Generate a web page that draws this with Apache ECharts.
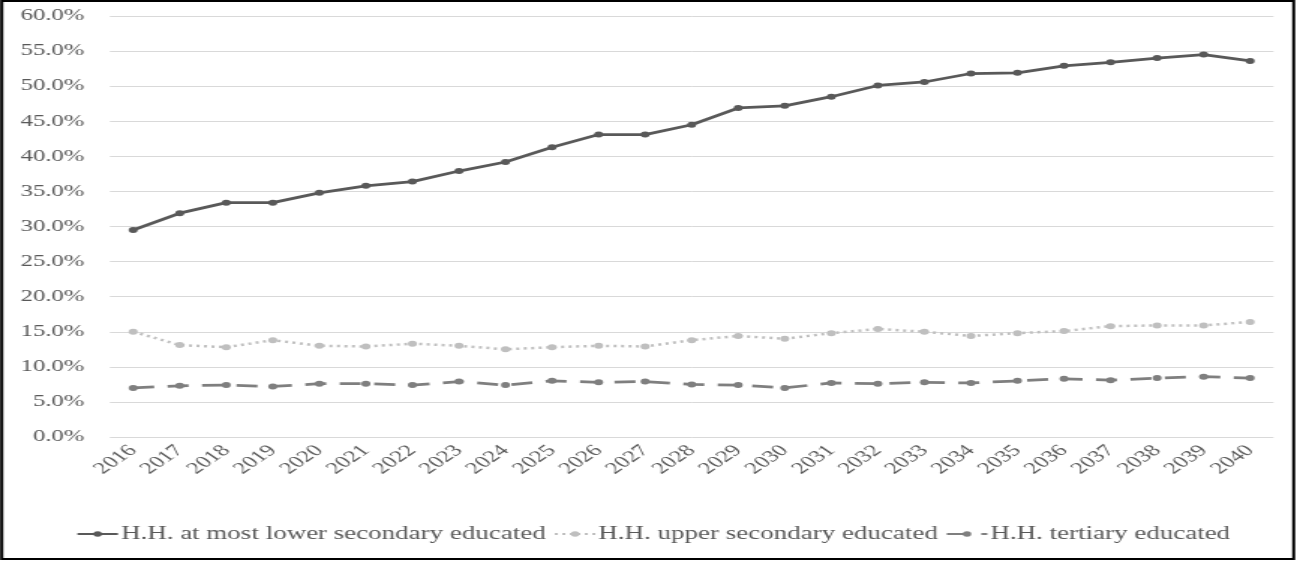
<!DOCTYPE html>
<html>
<head>
<meta charset="utf-8">
<script src="https://cdn.jsdelivr.net/npm/echarts@6/dist/echarts.min.js"></script>
<style>
html,body{margin:0;padding:0;background:#fff;overflow:hidden;}
#wrap{width:1306px;height:562px;overflow:hidden;}
#chart{width:871px;height:562px;transform:scaleX(1.4994);transform-origin:0 0;}
</style>
</head>
<body>
<div id="wrap"><div id="chart"></div></div>
<script>
const years = ['2016','2017','2018','2019','2020','2021','2022','2023','2024','2025','2026','2027','2028','2029','2030','2031','2032','2033','2034','2035','2036','2037','2038','2039','2040'];
const lowerSecondary = [29.5,31.9,33.4,33.4,34.8,35.8,36.4,37.9,39.2,41.3,43.1,43.1,44.5,46.9,47.2,48.5,50.1,50.6,51.8,51.9,52.9,53.4,54.0,54.5,53.6];
const upperSecondary = [15.0,13.1,12.8,13.8,13.0,12.9,13.3,13.0,12.5,12.8,13.0,12.9,13.8,14.4,14.0,14.8,15.4,15.0,14.4,14.8,15.1,15.8,15.9,15.9,16.4];
const tertiary = [7.0,7.3,7.4,7.2,7.6,7.6,7.4,7.9,7.4,8.0,7.8,7.9,7.5,7.4,7.0,7.7,7.6,7.8,7.7,8.0,8.3,8.1,8.4,8.6,8.4];
const seriesNames = ['H.H. at most lower secondary educated','H.H. upper secondary educated','H.H. tertiary educated'];

const font = '"Liberation Serif", "DejaVu Serif", serif';
const chart = echarts.init(document.getElementById('chart'), null, {renderer:'canvas'});
chart.setOption({
  animation:false,
  backgroundColor:'#fff',
  textStyle:{fontFamily:font},
  graphic:[{type:'rect',shape:{x:1.2,y:1,width:861.6,height:558},style:{fill:'none',stroke:'#000',lineWidth:2},silent:true,z:100}],
  grid:{left:73.3,right:21.7,top:16,bottom:125,containLabel:false},
  legend:{
    bottom:14,
    left:'center',
    itemWidth:27,
    itemHeight:7,
    itemGap:5,
    textStyle:{fontFamily:font,fontSize:18,color:'#595959',padding:[0,0,0,-3]},
    data:seriesNames
  },
  xAxis:{
    type:'category',
    data:years,
    boundaryGap:true,
    axisLine:{show:false},
    axisTick:{show:false},
    axisLabel:{rotate:45,fontFamily:font,fontSize:16.5,color:'#595959',margin:11,interval:0}
  },
  yAxis:{
    type:'value',
    min:0,max:60,interval:5,
    axisLine:{show:false},
    axisTick:{show:false},
    splitLine:{lineStyle:{color:'#d9d9d9',width:1}},
    axisLabel:{fontFamily:font,fontSize:16.5,color:'#595959',margin:17,formatter:v=>v.toFixed(1)+'%'}
  },
  series:[
    {name:seriesNames[0],type:'line',data:lowerSecondary,symbol:'circle',symbolSize:6,
     lineStyle:{color:'#595959',width:2.75},itemStyle:{color:'#595959'}},
    {name:seriesNames[1],type:'line',data:upperSecondary,symbol:'circle',symbolSize:6,
     lineStyle:{color:'#bfbfbf',width:2.5,type:[2,3]},itemStyle:{color:'#bfbfbf'}},
    {name:seriesNames[2],type:'line',data:tertiary,symbol:'circle',symbolSize:6,
     lineStyle:{color:'#7f7f7f',width:2.75,type:[14,9]},itemStyle:{color:'#7f7f7f'}}
  ]
});
</script>
</body>
</html>
